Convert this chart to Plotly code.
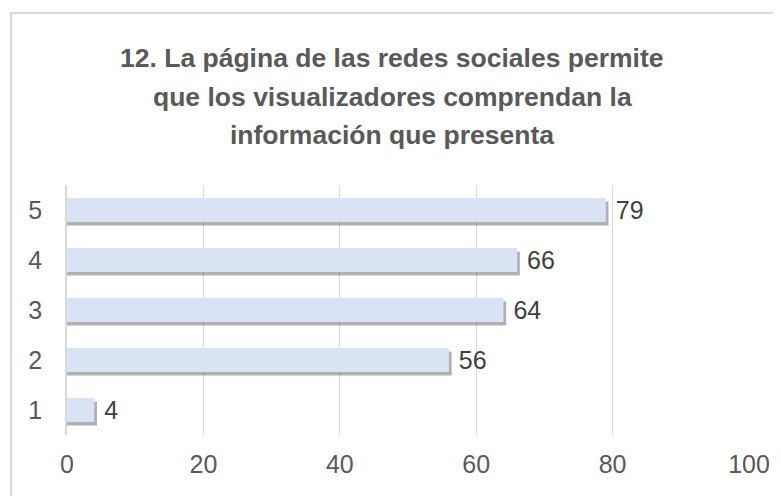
import plotly.graph_objects as go

categorias = ["1", "2", "3", "4", "5"]
valores = [4, 56, 64, 66, 79]
ticks_x = [0, 20, 40, 60, 80, 100]

titulo = [
    "12. La página de las redes sociales permite",
    "que los visualizadores comprendan la",
    "información que presenta",
]

FUENTE = "Liberation Sans, Arial, sans-serif"

# la pagina deja 8px de margen en el body
W, H = 773, 488
PLOT_TOP, PLOT_BOT = 185, 435  # en pantalla


def y_papel(px_pantalla):
    return (PLOT_BOT - px_pantalla) / (PLOT_BOT - PLOT_TOP)


fig = go.Figure()

# sombra de las barras
fig.add_trace(go.Bar(
    y=categorias, x=[v + 0.4 for v in valores], orientation="h",
    width=0.48, offset=-0.31,
    marker=dict(color="rgba(60,60,60,0.40)", line=dict(width=0)),
    hoverinfo="skip", showlegend=False,
))

fig.add_trace(go.Bar(
    y=categorias, x=valores, orientation="h",
    width=0.48, offset=-0.24,
    marker=dict(color="#DAE3F3", line=dict(width=0)),
    text=valores, texttemplate=" %{x}", textposition="outside",
    constraintext="none",
    textfont=dict(family=FUENTE, size=25, color="#404040"),
    cliponaxis=False, showlegend=False,
))

# titulo en tres lineas con el interlineado del original
centros = [58, 97, 135]
anotaciones = [
    dict(text=t, xref="paper", yref="paper", x=(392 - 67) / 682, y=y_papel(c),
         xanchor="center", yanchor="middle", showarrow=False,
         font=dict(family=FUENTE, size=26.5, color="#595959", weight="bold"))
    for t, c in zip(titulo, centros)
]

fig.update_layout(
    width=W, height=H,
    margin=dict(l=59, r=32, t=177, b=61),
    paper_bgcolor="white", plot_bgcolor="white",
    barmode="overlay",
    annotations=anotaciones,
    xaxis=dict(
        range=[0, 100], tickvals=ticks_x, showgrid=True, gridcolor="#D9D9D9",
        gridwidth=1, zeroline=False, showline=False,
        tickfont=dict(family=FUENTE, size=25, color="#595959"),
        ticklabelstandoff=12,
    ),
    yaxis=dict(
        categoryorder="array", categoryarray=categorias,
        showgrid=False, zeroline=False, showline=True, linecolor="#D9D9D9",
        linewidth=1.5, ticks="",
        tickfont=dict(family=FUENTE, size=25, color="#595959"),
        ticklabelstandoff=18,
    ),
    shapes=[dict(
        type="rect", xref="paper", yref="paper",
        x0=(3 - 59) / 682, x1=(800 - 59) / 682,
        y0=(427 - 520) / 250, y1=(427 - 5) / 250,
        line=dict(color="#D9D9D9", width=2), layer="below",
    )],
)

fig.write_html("out.html")
